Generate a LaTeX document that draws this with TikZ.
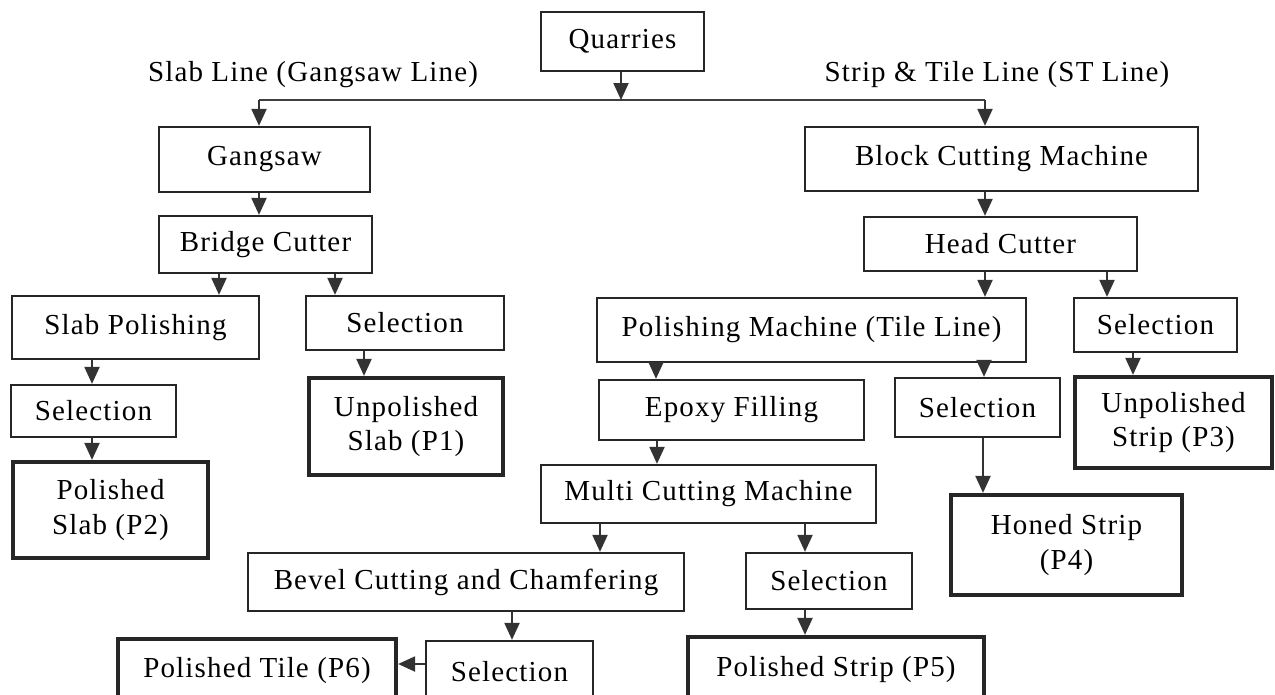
\documentclass[tikz,border=0pt]{standalone}
\usepackage{fontspec}
\setmainfont{Liberation Serif}[LetterSpace=4]
\usetikzlibrary{arrows.meta}
\begin{document}
\begin{tikzpicture}[x=0.02cm,y=-0.02cm,
  every node/.style={font=\fontsize{16.5}{19.5}\selectfont},
  box/.style 2 args={draw=black!85, line width=1.3pt, fill=white, inner sep=0pt,
    align=center, minimum width=#1*0.02cm, minimum height=#2*0.02cm},
  prod/.style 2 args={box={#1}{#2}, line width=2.4pt},
  arr/.style={draw=black!80, line width=1.2pt, -{Triangle[length=0.34cm,width=0.3cm]}},
  conn/.style={draw=black!75, line width=1.5pt}
]
\useasboundingbox (0,0) rectangle (1275,694);
\clip (0,0) rectangle (1275,694);

% nodes
\node[box={163}{59}] (q) at (622.5,41.5) {Quarries};
\node (lslab) at (313,75) {Slab Line (Gangsaw Line)};
\node (lst) at (997,75) {Strip \& Tile Line (ST Line)};
\node[box={211}{65}] (gang) at (264.5,159.5) {Gangsaw};
\node[box={393}{64}] (bcm) at (1001.5,159) {Block Cutting Machine};
\node[box={213}{57}] (bridge) at (265.5,244.5) {Bridge Cutter};
\node[box={273}{54}] (head) at (1000.5,244) {Head Cutter};
\node[box={247}{63}] (slabpol) at (135.5,327.5) {Slab Polishing};
\node[box={198}{54}] (selA) at (405,323) {Selection};
\node[box={429}{64}] (pm) at (811.5,330) {Polishing Machine (Tile Line)};
\node[box={163}{54}] (selB) at (1155.5,325) {Selection};
\node[box={165}{52}] (selC) at (93.5,411) {Selection};
\node[prod={194}{97}] (p1) at (406,426.5) {Unpolished\\Slab (P1)};
\node[box={265}{60}] (epoxy) at (731.5,410) {Epoxy Filling};
\node[box={165}{59}] (selD) at (977.5,407.5) {Selection};
\node[prod={197}{91}] (p3) at (1173.5,422.5) {Unpolished\\Strip (P3)};
\node[prod={195}{96}] (p2) at (110.5,510) {Polished\\Slab (P2)};
\node[box={335}{58}] (multi) at (708.5,494) {Multi Cutting Machine};
\node[prod={231}{100}] (p4) at (1066.5,545) {Honed Strip\\(P4)};
\node[box={436}{58}] (bevel) at (466,582) {Bevel Cutting and Chamfering};
\node[box={166}{56}] (selE) at (829,581) {Selection};
\node[prod={278}{64}] (p6) at (257,671) {Polished Tile (P6)};
\node[box={167}{62}] (selF) at (509.5,672) {Selection};
\node[prod={296}{66}] (p5) at (836,670) {Polished Strip (P5)};

% split line
\coordinate (hq) at (621,100);
\coordinate (hl) at (259,100);
\coordinate (hr) at (985,100);
\draw[conn] (hl) -- (hr);
\draw[arr] (q.south -| hq) -- (hq);
\draw[arr] (hl) -- (hl |- gang.north);
\draw[arr] (hr) -- (hr |- bcm.north);

% slab line
\draw[arr] (gang.south -| 259,0) -- (bridge.north -| 259,0);
\draw[arr] (bridge.south -| 219,0) -- (slabpol.north -| 219,0);
\draw[arr] (bridge.south -| 335,0) -- (selA.north -| 335,0);
\draw[arr] (slabpol.south -| 92,0) -- (selC.north -| 92,0);
\draw[arr] (selC.south -| 92,0) -- (p2.north -| 92,0);
\draw[arr] (selA.south -| 364,0) -- (p1.north -| 364,0);

% strip and tile line
\draw[arr] (bcm.south -| 985,0) -- (head.north -| 985,0);
\draw[arr] (head.south -| 985,0) -- (pm.north -| 985,0);
\draw[arr] (head.south -| 1107,0) -- (selB.north -| 1107,0);
\draw[arr] (selB.south -| 1133,0) -- (p3.north -| 1133,0);
\draw[arr] (pm.south -| 656,0) -- (epoxy.north -| 656,0);
\draw[arr] (pm.south -| 984,0) -- (selD.north -| 984,0);
\draw[arr] (selD.south -| 983,0) -- (p4.north -| 983,0);
\draw[arr] (epoxy.south -| 657,0) -- (multi.north -| 657,0);
\draw[arr] (multi.south -| 600,0) -- (bevel.north -| 600,0);
\draw[arr] (multi.south -| 805,0) -- (selE.north -| 805,0);
\draw[arr] (selE.south -| 805,0) -- (p5.north -| 805,0);
\draw[arr] (bevel.south -| 512,0) -- (selF.north -| 512,0);
\draw[arr] (selF.west |- 0,664) -- (p6.east |- 0,664);
\end{tikzpicture}
\end{document}
